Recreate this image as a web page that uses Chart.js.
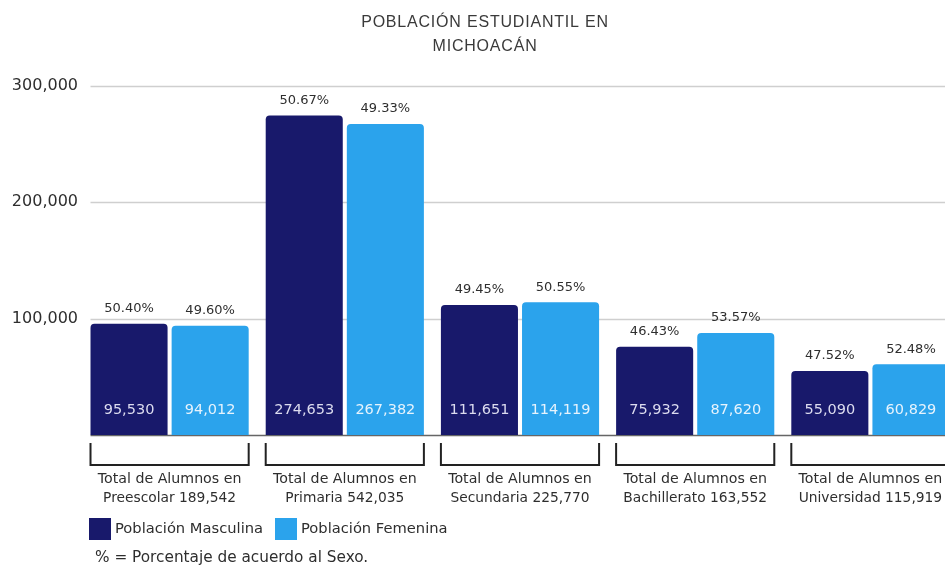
<!DOCTYPE html>
<html>
<head>
<meta charset="utf-8">
<script src="https://cdn.jsdelivr.net/npm/chart.js@4"></script>
<style>
  html, body { margin: 0; padding: 0; background: #fff; overflow: hidden; }
  #wrap { width: 960px; height: 567px; }
</style>
</head>
<body>
<div id="wrap"><canvas id="chart" width="960" height="567"></canvas></div>
<script>
const titleLines = ['POBLACIÓN ESTUDIANTIL EN', 'MICHOACÁN'];
const categories = [
  ['Total de Alumnos en', 'Preescolar 189,542'],
  ['Total de Alumnos en', 'Primaria 542,035'],
  ['Total de Alumnos en', 'Secundaria 225,770'],
  ['Total de Alumnos en', 'Bachillerato 163,552'],
  ['Total de Alumnos en', 'Universidad 115,919']
];
const masculina = [95530, 274653, 111651, 75932, 55090];
const femenina = [94012, 267382, 114119, 87620, 60829];
const pctMasculina = ['50.40%', '50.67%', '49.45%', '46.43%', '47.52%'];
const pctFemenina = ['49.60%', '49.33%', '50.55%', '53.57%', '52.48%'];
const yTicks = [0, 100000, 200000, 300000];
const seriesNames = ['Población Masculina', 'Población Femenina'];
const footnote = '% = Porcentaje de acuerdo al Sexo.';

const darkBlue = '#18196b';
const lightBlue = '#2ba3ec';
const textColor = '#2e2e2e';
const font = '"DejaVu Sans", sans-serif';

// gridlines start at the first bar, not at the axis
const grid = {
  id: 'grid',
  beforeDatasetsDraw(chart) {
    const ctx = chart.ctx;
    const area = chart.chartArea;
    const y = chart.scales.y;
    const first = chart.getDatasetMeta(0).data[0];
    const x0 = first.x - first.width / 2;
    ctx.save();
    yTicks.forEach(v => {
      const py = Math.round(y.getPixelForValue(v)) + 0.5;
      ctx.strokeStyle = v === 0 ? '#666' : '#cfcfcf';
      ctx.lineWidth = 1.5;
      ctx.beginPath();
      ctx.moveTo(x0, py);
      ctx.lineTo(area.right, py);
      ctx.stroke();
    });
    ctx.restore();
  }
};

const extras = {
  id: 'extras',
  afterDatasetsDraw(chart) {
    const ctx = chart.ctx;
    const area = chart.chartArea;
    const m0 = chart.getDatasetMeta(0).data;
    const m1 = chart.getDatasetMeta(1).data;
    ctx.save();

    // title
    ctx.fillStyle = '#3a3a3a';
    ctx.textAlign = 'center';
    ctx.textBaseline = 'middle';
    ctx.font = '16px "Liberation Sans", Arial, sans-serif';
    ctx.letterSpacing = '0.8px';
    ctx.fillText(titleLines[0], 485, 23);
    ctx.fillText(titleLines[1], 485, 47);
    ctx.letterSpacing = '0px';

    // percentages and values
    const pcts = [pctMasculina, pctFemenina];
    [m0, m1].forEach((bars, d) => {
      bars.forEach((bar, i) => {
        ctx.font = '13px ' + font;
        ctx.fillStyle = textColor;
        ctx.fillText(pcts[d][i], bar.x, bar.y - 15);
        ctx.font = '14.5px ' + font;
        ctx.fillStyle = d === 0 ? '#dcdcef' : '#e6f3fd';
        const v = chart.data.datasets[d].data[i];
        ctx.fillText(v.toLocaleString('en-US'), bar.x, area.bottom - 25);
      });
    });

    // brackets and category labels
    ctx.strokeStyle = '#222';
    ctx.lineWidth = 2;
    categories.forEach((lines, i) => {
      const l = m0[i].x - m0[i].width / 2;
      const r = m1[i].x + m1[i].width / 2;
      ctx.beginPath();
      ctx.moveTo(l, area.bottom + 8);
      ctx.lineTo(l, area.bottom + 30);
      ctx.lineTo(r, area.bottom + 30);
      ctx.lineTo(r, area.bottom + 8);
      ctx.stroke();
      ctx.fillStyle = textColor;
      const cx = (l + r) / 2;
      ctx.font = '14.2px ' + font;
      ctx.fillText(lines[0], cx, area.bottom + 44);
      ctx.font = '13.8px ' + font;
      ctx.fillText(lines[1], cx, area.bottom + 63);
    });

    // legend
    ctx.textAlign = 'left';
    ctx.font = '14.7px ' + font;
    const lx = [89, 275];
    [darkBlue, lightBlue].forEach((c, i) => {
      ctx.fillStyle = c;
      ctx.fillRect(lx[i], 518, 22, 22);
      ctx.fillStyle = textColor;
      ctx.fillText(seriesNames[i], lx[i] + 26, 529);
    });

    // footnote
    ctx.font = '15.3px ' + font;
    ctx.fillText(footnote, 95, 558);
    ctx.restore();
  }
};

new Chart(document.getElementById('chart'), {
  type: 'bar',
  data: {
    labels: categories,
    datasets: [
      { label: seriesNames[0], data: masculina, backgroundColor: darkBlue },
      { label: seriesNames[1], data: femenina, backgroundColor: lightBlue }
    ]
  },
  options: {
    responsive: false,
    animation: false,
    devicePixelRatio: 1,
    categoryPercentage: 0.926,
    barPercentage: 0.95,
    borderRadius: 4,
    layout: { padding: { top: 86, bottom: 132, right: 2, left: 0 } },
    plugins: {
      legend: { display: false },
      title: { display: false },
      tooltip: { enabled: false }
    },
    scales: {
      x: { display: false },
      y: {
        min: 0,
        max: 300000,
        afterFit(scale) { scale.width = 82; },
        afterBuildTicks(scale) { scale.ticks = yTicks.map(v => ({ value: v })); },
        border: { display: false },
        grid: { display: false, drawTicks: false },
        ticks: {
          padding: 4,
          color: textColor,
          font: { family: '"DejaVu Sans", sans-serif', size: 16 },
          callback: v => v === 0 ? '' : v.toLocaleString('en-US')
        }
      }
    }
  },
  plugins: [grid, extras]
});
</script>
</body>
</html>
